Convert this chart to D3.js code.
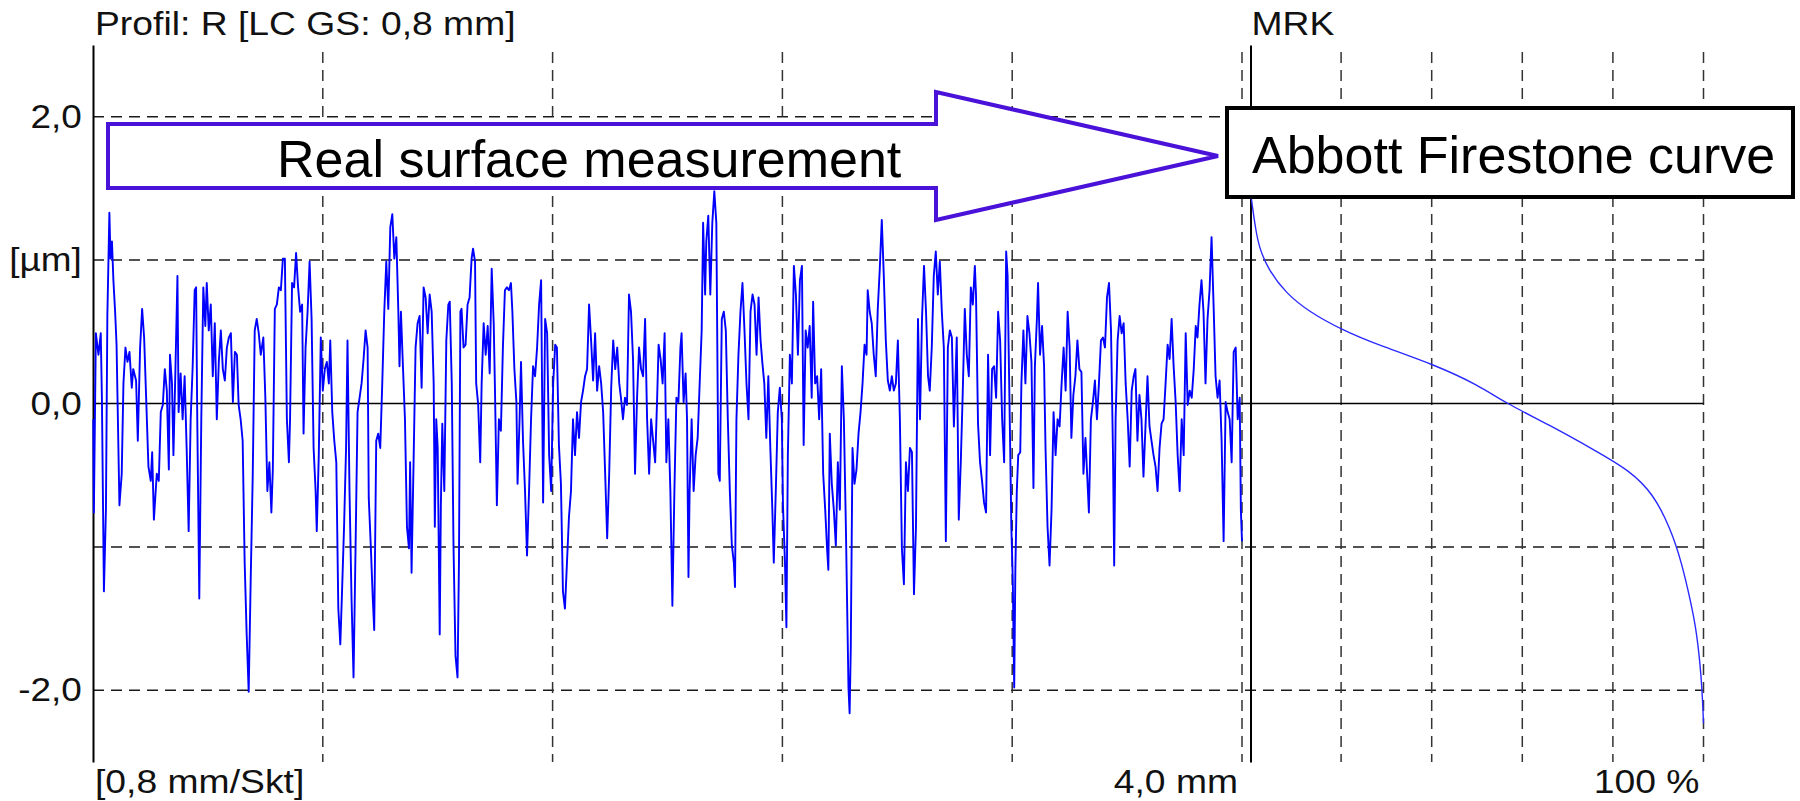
<!DOCTYPE html>
<html>
<head>
<meta charset="utf-8">
<script src="https://cdn.jsdelivr.net/npm/d3@7"></script>
<style>
body { margin: 0; background: #fff; }
svg { display: block; font-family: "Liberation Sans", Arial, sans-serif; }
</style>
</head>
<body>
<div class="container"></div>
<script>
const WIDTH = 1800;
const HEIGHT = 801;

// roughness profile, [position mm, height µm]
const profilePoints = [
[0.001,-0.11],[0.003,-0.76],[0.010,0.49],[0.019,0.34],[0.027,0.49],[0.031,0.04],[0.038,-1.31],[0.045,-0.74],[0.050,0.61],[0.057,1.33],
[0.061,1.01],[0.066,1.13],[0.071,0.86],[0.077,0.64],[0.082,0.41],[0.092,-0.71],[0.100,-0.49],[0.106,0.14],[0.113,0.39],[0.120,0.29],
[0.127,0.36],[0.135,0.11],[0.140,0.24],[0.150,0.16],[0.156,-0.26],[0.164,0.39],[0.171,0.66],[0.178,0.46],[0.185,0.04],[0.193,-0.44],
[0.201,-0.54],[0.206,-0.34],[0.212,-0.81],[0.222,-0.49],[0.229,-0.54],[0.236,-0.06],[0.243,-0.01],[0.250,0.24],[0.257,0.09],[0.264,-0.46],
[0.268,0.34],[0.275,0.14],[0.280,-0.36],[0.287,0.24],[0.294,0.89],[0.298,-0.06],[0.305,0.21],[0.312,-0.11],[0.319,0.19],[0.326,-0.31],
[0.333,-0.89],[0.340,-0.11],[0.347,0.26],[0.354,0.79],[0.359,0.81],[0.363,-0.11],[0.370,-1.36],[0.377,-0.11],[0.384,0.81],[0.391,0.54],
[0.396,0.84],[0.403,0.51],[0.410,0.69],[0.417,0.19],[0.424,0.56],[0.431,-0.11],[0.438,0.29],[0.445,0.51],[0.452,0.24],[0.459,0.16],
[0.466,0.39],[0.473,0.46],[0.480,0.49],[0.487,0.01],[0.494,0.36],[0.501,0.34],[0.507,-0.01],[0.514,-0.11],[0.521,-0.26],[0.528,-1.11],
[0.535,-1.61],[0.542,-2.01],[0.549,-1.23],[0.556,-0.51],[0.563,0.51],[0.570,0.59],[0.577,0.49],[0.584,0.34],[0.593,0.46],[0.600,0.04],
[0.607,-0.61],[0.614,-0.41],[0.621,-0.76],[0.626,-0.46],[0.633,0.66],[0.640,0.69],[0.647,0.81],[0.654,0.79],[0.661,1.01],[0.668,1.01],
[0.675,-0.11],[0.682,-0.41],[0.686,-0.11],[0.693,0.84],[0.700,0.81],[0.707,1.05],[0.714,0.81],[0.721,0.64],[0.728,0.69],[0.733,-0.21],
[0.740,0.39],[0.747,0.64],[0.754,0.99],[0.761,0.59],[0.768,-0.31],[0.775,-0.61],[0.779,-0.89],[0.786,-0.36],[0.793,0.46],[0.800,0.09],
[0.807,0.24],[0.814,0.29],[0.821,0.14],[0.826,0.44],[0.833,-0.06],[0.840,-0.26],[0.847,-0.41],[0.854,-1.43],[0.861,-1.68],[0.867,-1.31],
[0.874,-0.86],[0.881,-0.31],[0.886,0.44],[0.893,-0.61],[0.900,-1.36],[0.907,-1.91],[0.914,-1.01],[0.921,-0.06],[0.928,0.04],[0.935,0.14],
[0.942,0.31],[0.949,0.51],[0.956,0.39],[0.960,-0.66],[0.967,-0.99],[0.974,-1.36],[0.979,-1.58],[0.986,-0.26],[0.993,-0.21],
[1.000,-0.31],[1.007,0.14],[1.014,0.64],[1.021,0.99],[1.028,0.66],[1.035,1.23],[1.042,1.32],[1.049,1.01],[1.056,1.16],[1.063,0.64],
[1.067,0.26],[1.072,0.64],[1.079,0.26],[1.086,-0.11],[1.093,-0.86],[1.100,-1.01],[1.104,-0.41],[1.109,-1.18],[1.116,-0.41],[1.123,0.39],
[1.130,0.56],[1.137,0.61],[1.144,0.11],[1.151,0.81],[1.158,0.74],[1.165,0.49],[1.172,0.76],[1.179,0.64],[1.186,0.14],[1.190,-0.86],
[1.195,-0.11],[1.200,-0.31],[1.207,-1.61],[1.211,-0.71],[1.216,-0.14],[1.223,-0.61],[1.230,0.44],[1.237,0.69],[1.242,0.71],[1.249,0.14],
[1.255,-0.99],[1.262,-1.76],[1.269,-1.91],[1.274,-1.11],[1.279,0.64],[1.283,0.66],[1.290,0.39],[1.297,0.41],[1.304,0.69],[1.311,0.74],
[1.318,1.01],[1.323,1.08],[1.330,0.99],[1.334,0.14],[1.341,-0.01],[1.348,-0.41],[1.353,0.14],[1.360,0.56],[1.367,0.34],[1.374,0.54],
[1.381,0.21],[1.388,0.94],[1.395,0.56],[1.399,0.14],[1.406,-0.71],[1.413,-0.11],[1.420,-0.19],[1.427,0.39],[1.434,0.79],[1.441,0.81],
[1.448,0.79],[1.455,0.84],[1.460,0.64],[1.467,0.24],[1.474,0.01],[1.478,-0.56],[1.485,-0.11],[1.490,0.29],[1.497,-0.26],[1.504,-0.61],
[1.511,-1.06],[1.518,-0.61],[1.525,-0.11],[1.532,0.26],[1.539,0.19],[1.546,0.39],[1.553,0.69],[1.560,0.86],[1.567,-0.69],[1.574,0.59],
[1.581,0.49],[1.588,-0.36],[1.595,-0.61],[1.602,0.14],[1.609,0.41],[1.615,0.39],[1.622,-0.29],[1.629,-0.56],[1.636,-1.31],[1.643,-1.43],
[1.650,-1.11],[1.657,-0.79],[1.664,-0.61],[1.671,-0.11],[1.678,-0.36],[1.685,-0.06],[1.692,-0.24],[1.699,0.01],[1.706,0.09],[1.713,0.19],
[1.720,0.24],[1.727,0.69],[1.734,0.44],[1.741,0.16],[1.748,0.49],[1.755,0.09],[1.762,0.26],[1.769,0.14],[1.776,-0.06],[1.783,-0.49],
[1.790,-0.94],[1.797,-0.49],[1.804,0.11],[1.811,0.44],[1.818,0.24],[1.825,0.39],[1.832,0.14],[1.838,0.04],[1.845,-0.11],[1.852,0.04],
[1.859,-0.01],[1.866,0.76],[1.873,0.64],[1.880,0.31],[1.887,-0.49],[1.894,0.04],[1.901,0.39],[1.908,0.24],[1.915,0.19],[1.922,0.59],
[1.929,-0.11],[1.936,-0.49],[1.943,-0.11],[1.950,-0.26],[1.957,-0.41],[1.964,0.04],[1.969,0.41],[1.976,0.31],[1.983,0.14],[1.990,0.49],
[1.996,-0.41],
[2.003,-0.11],[2.010,-0.61],[2.017,-1.41],[2.024,-0.61],[2.031,0.04],[2.038,0.01],[2.045,0.39],[2.049,0.49],[2.056,0.01],[2.063,0.21],
[2.068,-0.11],[2.073,-1.21],[2.077,-0.61],[2.084,-0.11],[2.091,-0.61],[2.098,-0.36],[2.105,-0.24],[2.112,0.14],[2.119,0.51],[2.124,1.26],
[2.131,0.76],[2.135,1.13],[2.142,1.31],[2.149,0.76],[2.156,1.26],[2.163,1.48],[2.170,1.26],[2.177,-0.49],[2.182,-0.54],[2.189,0.59],
[2.196,0.64],[2.203,0.51],[2.210,-0.11],[2.217,-0.61],[2.224,-0.99],[2.231,-1.11],[2.235,-1.28],[2.240,-0.11],[2.247,0.34],[2.254,0.64],
[2.261,0.84],[2.268,0.51],[2.275,0.14],[2.282,-0.11],[2.289,0.64],[2.296,0.76],[2.303,0.69],[2.310,0.34],[2.317,0.74],[2.324,0.44],
[2.330,0.29],[2.337,0.14],[2.344,-0.24],[2.351,0.19],[2.358,-0.31],[2.365,-0.74],[2.370,-1.11],[2.377,-0.61],[2.384,-0.06],[2.391,0.11],
[2.398,-0.11],[2.402,-0.71],[2.409,-1.11],[2.414,-1.56],[2.419,-0.36],[2.426,0.34],[2.433,0.14],[2.440,0.96],[2.447,0.76],[2.454,0.34],
[2.461,0.86],[2.468,0.96],[2.474,-0.29],[2.481,0.51],[2.488,0.39],[2.495,0.54],[2.502,0.04],[2.507,0.71],[2.514,0.14],[2.521,0.19],
[2.528,-0.11],[2.535,0.24],[2.542,-0.49],[2.549,-0.74],[2.556,-1.03],[2.560,-1.16],[2.565,-0.21],[2.572,-0.56],[2.579,-0.74],[2.586,-0.99],
[2.593,-0.41],[2.600,-0.74],[2.607,0.26],[2.614,-0.11],[2.621,-0.86],[2.625,-1.36],[2.630,-1.98],[2.634,-2.16],[2.638,-1.71],[2.644,-0.31],
[2.651,-0.56],[2.658,-0.46],[2.665,-0.21],[2.672,-0.06],[2.679,0.14],[2.686,0.41],[2.693,0.34],[2.697,0.79],[2.704,0.64],[2.711,0.56],
[2.718,0.34],[2.725,0.19],[2.732,0.66],[2.739,0.94],[2.746,1.28],[2.753,0.89],[2.760,0.44],[2.767,0.16],[2.774,0.09],[2.781,0.19],
[2.788,0.09],[2.795,0.14],[2.802,0.44],[2.809,-0.11],[2.816,-1.01],[2.823,-1.26],[2.830,-0.41],[2.837,-0.61],[2.844,-0.31],[2.851,-0.34],
[2.858,-1.33],[2.865,-0.86],[2.872,0.59],[2.879,-0.11],[2.886,0.59],[2.893,0.96],[2.900,0.64],[2.907,0.19],[2.913,0.09],[2.920,0.39],
[2.927,0.89],[2.934,1.06],[2.941,0.76],[2.948,0.99],[2.955,0.64],[2.962,0.39],[2.969,-0.96],[2.976,0.39],[2.983,0.51],[2.990,0.46],
[2.997,-0.16],
[3.007,0.46],[3.014,-0.81],[3.021,-0.41],[3.028,0.09],[3.035,0.66],[3.042,0.34],[3.049,0.19],[3.056,0.81],[3.063,0.69],[3.070,0.96],
[3.074,0.76],[3.081,-0.14],[3.088,-0.41],[3.095,-0.54],[3.102,-0.69],[3.109,-0.76],[3.116,0.34],[3.123,-0.36],[3.130,0.24],[3.137,0.26],
[3.144,0.04],[3.151,0.64],[3.158,0.44],[3.165,-0.11],[3.172,-0.41],[3.179,1.06],[3.184,0.89],[3.188,0.34],[3.193,-0.31],[3.197,-0.86],
[3.202,-1.23],[3.207,-1.98],[3.211,-1.16],[3.216,-0.61],[3.221,-0.36],[3.228,-0.34],[3.232,0.14],[3.239,0.51],[3.246,0.14],[3.253,0.61],
[3.260,0.49],[3.267,0.29],[3.274,-0.59],[3.279,0.26],[3.286,0.59],[3.290,0.84],[3.297,0.34],[3.304,0.54],[3.311,0.26],[3.316,-0.31],
[3.323,-0.86],[3.330,-1.13],[3.337,-0.74],[3.344,-0.06],[3.351,-0.36],[3.358,-0.11],[3.365,-0.16],[3.372,0.14],[3.379,0.39],[3.386,0.09],
[3.393,0.64],[3.400,0.39],[3.406,-0.24],[3.413,0.06],[3.420,0.19],[3.427,0.44],[3.434,0.24],[3.441,0.22],[3.448,-0.49],[3.455,-0.24],
[3.462,-0.54],[3.467,-0.76],[3.474,-0.11],[3.481,0.01],[3.488,0.16],[3.495,-0.11],[3.502,0.14],[3.509,0.44],[3.516,0.46],[3.523,0.39],
[3.530,0.74],[3.537,0.84],[3.544,0.51],[3.551,-0.36],[3.555,-1.13],[3.560,-0.11],[3.567,0.44],[3.574,0.61],[3.581,0.49],[3.588,0.56],
[3.595,0.14],[3.602,-0.11],[3.609,-0.44],[3.616,0.09],[3.623,0.19],[3.629,0.24],[3.636,-0.26],[3.643,0.06],[3.650,-0.11],[3.657,-0.51],
[3.664,-0.16],[3.671,0.19],[3.678,-0.16],[3.685,-0.26],[3.692,-0.36],[3.699,-0.44],[3.706,-0.61],[3.713,-0.31],[3.720,-0.14],[3.727,-0.11],
[3.734,0.14],[3.741,0.41],[3.748,0.31],[3.755,0.59],[3.762,0.26],[3.769,0.01],[3.776,-0.36],[3.783,-0.61],[3.790,-0.11],[3.797,-0.36],
[3.804,0.49],[3.811,-0.01],[3.818,0.09],[3.825,0.04],[3.832,0.24],[3.839,0.54],[3.845,0.46],[3.852,0.69],[3.859,0.86],[3.866,0.64],
[3.873,0.14],[3.880,0.59],[3.887,0.79],[3.894,1.16],[3.901,0.69],[3.908,0.19],[3.915,0.04],[3.922,0.16],[3.929,-0.26],[3.936,-0.96],
[3.943,0.01],[3.950,-0.06],[3.957,-0.11],[3.964,-0.41],[3.971,0.36],[3.978,0.39],[3.985,-0.11],[3.992,0.04],[3.996,-0.74],[4.000,-0.96]
];

// material ratio curve (MRK): ratio in %, height in µm
const abbottPct = [0, 0.3, 1.2, 2.0, 4.0, 7.8, 12.9, 20.4, 28, 40.7, 50.8, 55.9, 66, 76.2, 83.8, 88.9, 92.7, 95.2, 97.3, 98.4, 99.2, 99.7, 100];
const abbottUm = [1.48, 1.40, 1.20, 1.08, 0.93, 0.77, 0.64, 0.51, 0.41, 0.27, 0.12, 0.01, -0.15, -0.33, -0.47, -0.63, -0.87, -1.11, -1.40, -1.58, -1.80, -2.0, -2.23];

const yTickValues = [2, 1, 0, -2];
const yTickLabels = ["2,0", "[µm]", "0,0", "-2,0"];
const hGridUm = [2, 1, -1, -2];
const xGridMm = [0.8, 1.6, 2.4, 3.2, 4.0];
const mrkGridPct = [20, 40, 60, 80, 100];

var translate = function (x, y) {
    return "translate(" + x + "," + y + ")";
};

var svg = d3.select(".container").append("svg")
    .attr("width", WIDTH)
    .attr("height", HEIGHT);

var xScale = d3.scaleLinear().domain([0, 4]).range([93, 1242]);
var pScale = d3.scaleLinear().domain([0, 100]).range([1250.5, 1703.5]);
var yScale = d3.scaleLinear().domain([-2.5, 2.5]).range([762, 45]);

var gridTop = yScale(2.5) + 7;
var gridBottom = yScale(-2.5);

// stretched screenshot text
var stretchText = function (txt, x, y, anchor) {
    svg.append("text")
        .attr("transform", translate(x, y) + " scale(1.13,1)")
        .attr("text-anchor", anchor)
        .attr("font-size", 33)
        .attr("fill", "#111")
        .text(txt);
};

// grid
svg.append("g").selectAll("line")
    .data(hGridUm)
    .enter().append("line")
    .attr("x1", xScale(0))
    .attr("x2", pScale(100))
    .attr("y1", function (d) { return yScale(d); })
    .attr("y2", function (d) { return yScale(d); })
    .attr("stroke", "#1a1a1a")
    .attr("stroke-width", 1.5)
    .attr("stroke-dasharray", "11,7");

svg.append("g").selectAll("line")
    .data(xGridMm)
    .enter().append("line")
    .attr("x1", function (d) { return xScale(d); })
    .attr("x2", function (d) { return xScale(d); })
    .attr("y1", gridTop)
    .attr("y2", gridBottom)
    .attr("stroke", "#333")
    .attr("stroke-width", 1.5)
    .attr("stroke-dasharray", "11,7");

svg.append("g").selectAll("line")
    .data(mrkGridPct)
    .enter().append("line")
    .attr("x1", function (d) { return pScale(d); })
    .attr("x2", function (d) { return pScale(d); })
    .attr("y1", gridTop)
    .attr("y2", gridBottom)
    .attr("stroke", "#333")
    .attr("stroke-width", 1.5)
    .attr("stroke-dasharray", "11,7");

// zero line
svg.append("line")
    .attr("x1", xScale(0))
    .attr("x2", pScale(100))
    .attr("y1", yScale(0))
    .attr("y2", yScale(0))
    .attr("stroke", "#000")
    .attr("stroke-width", 1.5);

// axes
var yAxis = d3.axisLeft(yScale)
    .tickValues(yTickValues)
    .tickFormat(function (d, i) { return yTickLabels[i]; })
    .tickSize(0)
    .tickPadding(10);

var yAxisG = svg.append("g")
    .attr("transform", translate(xScale(0), 0))
    .call(yAxis);
yAxisG.select(".domain").attr("stroke", "#000").attr("stroke-width", 2);
yAxisG.selectAll("text")
    .attr("font-size", 33)
    .attr("font-family", "Liberation Sans, Arial, sans-serif")
    .attr("fill", "#111")
    .attr("transform", "scale(1.12,1)");

var mrkAxisG = svg.append("g")
    .attr("transform", translate(pScale(0), 0))
    .call(d3.axisLeft(yScale).tickValues([]).tickSize(0));
mrkAxisG.select(".domain").attr("stroke", "#000").attr("stroke-width", 2);

// profile trace
var line = d3.line()
    .x(function (d) { return xScale(d[0]); })
    .y(function (d) { return yScale(d[1]); });

svg.append("path")
    .attr("d", line(profilePoints))
    .attr("fill", "none")
    .attr("stroke", "#0000ff")
    .attr("stroke-width", 1.9)
    .attr("stroke-linejoin", "round");

// abbott firestone curve
var abbottLine = d3.line()
    .x(function (d, i) { return pScale(abbottPct[i]); })
    .y(function (d) { return yScale(d); })
    .curve(d3.curveBasis);

svg.append("path")
    .attr("d", abbottLine(abbottUm))
    .attr("fill", "none")
    .attr("stroke", "#2a2aff")
    .attr("stroke-width", 1.4);

// labels
stretchText("Profil: R [LC GS: 0,8 mm]", 95, 35, "start");
stretchText("MRK", pScale(0) + 1, 35, "start");
stretchText("[0,8 mm/Skt]", xScale(0) + 2, 793, "start");
stretchText("4,0 mm", xScale(4) - 4, 793, "end");
stretchText("100 %", pScale(100) - 4, 793, "end");

// annotations
svg.append("path")
    .attr("d", "M108,124 L936,124 L936,92 L1218,156 L936,220 L936,188 L108,188 Z")
    .attr("fill", "#fff")
    .attr("stroke", "#4a12d8")
    .attr("stroke-width", 4)
    .attr("stroke-linejoin", "miter");

svg.append("text")
    .attr("x", 277)
    .attr("y", 177)
    .attr("font-size", 52)
    .attr("fill", "#000")
    .text("Real surface measurement");

svg.append("rect")
    .attr("x", 1227)
    .attr("y", 108)
    .attr("width", 566)
    .attr("height", 89)
    .attr("fill", "#fff")
    .attr("stroke", "#000")
    .attr("stroke-width", 4);

svg.append("text")
    .attr("x", 1252)
    .attr("y", 173)
    .attr("font-size", 52)
    .attr("fill", "#000")
    .text("Abbott Firestone curve");
</script>
</body>
</html>
